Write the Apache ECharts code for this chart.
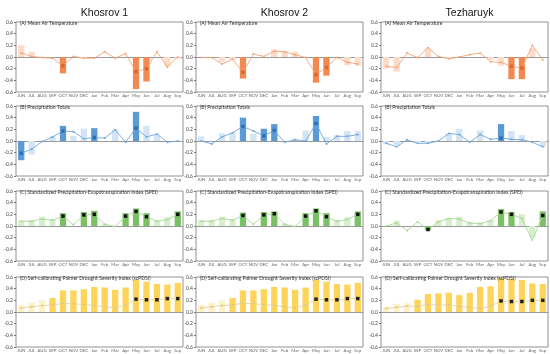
<!DOCTYPE html>
<html><head><meta charset="utf-8">
<script src="https://cdn.jsdelivr.net/npm/echarts@6/dist/echarts.min.js"></script>
<style>html,body{margin:0;padding:0;background:#fff}#c{width:550px;height:354px}</style>
</head><body><div id="c"></div><script>
const months = ['JUN','JUL','AUG','SEP','OCT','NOV','DEC','Jan','Feb','Mar','Apr','May','Jun','Jul','Aug','Sep'];
const sites = ['Khosrov 1','Khosrov 2','Tezharuyk'];
const panelTitles = ['(A) Mean Air Temperature','(B) Precipitation Totals','(C) Standardized Precipitation-Evapotranspiration Index (SPEI)','(D) Self-calibrating Palmer Drought Severity Index (scPDSI)'];
const yTicks = [-0.6,-0.4,-0.2,0.0,0.2,0.4,0.6];

// Khosrov 1
const k1TempBar  = [0.2,0.09,0,0,-0.28,0,-0.03,0,0,0,0,-0.55,-0.42,0,-0.16,-0.03];
const k1TempLine = [0.07,0.01,-0.01,-0.02,-0.15,0.01,-0.02,-0.02,0.09,-0.02,0.06,-0.25,-0.2,0.09,-0.17,0.0];
const k1TempSig  = [0,0,0,0,1,0,0,0,0,0,0,1,1,0,0,0];
const k1PrecBar  = [-0.33,-0.23,0,0.08,0.26,0.09,0.21,0.22,0,0.2,0,0.5,0.26,0.1,0,0];
const k1PrecLine = [-0.21,-0.14,-0.01,0.07,0.17,0.16,0.04,0.06,0.05,0.19,-0.02,0.22,0.07,0.12,-0.02,0.0];
const k1PrecSig  = [1,0,0,0,1,0,0,1,0,0,0,1,0,0,0,0];
const k1SpeiBar  = [0.1,0.1,0.16,0.12,0.22,0,0.24,0.26,0.04,0,0.22,0.3,0.22,0.1,0.15,0.25];
const k1SpeiLine = [0.08,0.08,0.12,0.1,0.17,0.02,0.19,0.2,0.03,-0.01,0.17,0.25,0.16,0.08,0.11,0.2];
const k1SpeiSig  = [0,0,0,0,1,0,1,1,0,0,1,1,1,0,0,1];
const k1PdsiBar  = [0.12,0.16,0.2,0.24,0.37,0.37,0.39,0.43,0.42,0.38,0.42,0.55,0.52,0.48,0.47,0.5];
const k1PdsiLine = [0.07,0.09,0.11,0.12,0.15,0.14,0.13,0.11,0.09,0.07,0.12,0.22,0.21,0.21,0.23,0.23];

// Khosrov 2
const k2TempBar  = [0,0,-0.08,-0.05,-0.37,0,0,0.13,0.1,0.09,0,-0.44,-0.32,0,-0.14,-0.15];
const k2TempLine = [-0.01,-0.01,-0.12,-0.04,-0.26,0.05,0.01,0.1,0.09,0.04,-0.01,-0.3,-0.18,-0.01,-0.09,-0.12];
const k2TempSig  = [0,0,0,0,1,0,0,0,0,0,0,1,1,0,0,0];
const k2PrecBar  = [0.08,0,0.13,0.14,0.4,0.12,0.21,0.29,0,0.04,0.18,0.43,0.07,0.1,0.17,0.17];
const k2PrecLine = [0.0,-0.05,0.07,0.14,0.25,0.17,0.09,0.18,-0.02,0.02,0.0,0.3,-0.05,0.08,0.08,0.11];
const k2PrecSig  = [0,0,0,0,1,0,1,1,0,0,0,1,0,0,0,0];
const k2SpeiBar  = [0.1,0.1,0.16,0.12,0.23,0,0.24,0.25,0.04,0,0.22,0.3,0.22,0.1,0.15,0.25];
const k2SpeiLine = [0.08,0.08,0.13,0.1,0.18,0.03,0.19,0.21,0.03,-0.01,0.17,0.26,0.16,0.08,0.11,0.2];
const k2SpeiSig  = [0,0,0,0,1,0,1,1,0,0,1,1,1,0,0,1];
const k2PdsiBar  = [0.12,0.16,0.2,0.24,0.37,0.37,0.39,0.43,0.42,0.38,0.42,0.55,0.52,0.48,0.47,0.5];
const k2PdsiLine = [0.07,0.09,0.11,0.12,0.15,0.14,0.13,0.11,0.09,0.07,0.12,0.22,0.21,0.21,0.23,0.23];

// Tezharuyk
const tzTempBar  = [-0.2,-0.25,0,0,0.14,0,-0.03,0,0,0,-0.05,-0.15,-0.38,-0.38,0.15,0];
const tzTempLine = [-0.16,-0.18,0.07,-0.01,0.16,0.01,-0.03,0.0,0.04,0.07,-0.08,-0.09,-0.16,-0.19,0.2,-0.05];
const tzTempSig  = [0,0,0,0,0,0,0,0,0,0,0,0,1,1,0,0];
const tzPrecBar  = [-0.05,-0.07,0,-0.02,-0.04,0,0.13,0.21,0,0.18,0,0.29,0.17,0.1,0,-0.1];
const tzPrecLine = [-0.04,-0.1,0.02,-0.04,-0.04,0.0,0.13,0.11,-0.02,0.11,0.03,0.05,0.03,0.02,-0.02,-0.1];
const tzPrecSig  = [0,0,0,0,0,0,0,0,0,0,0,1,0,0,0,0];
const tzSpeiBar  = [0,0.09,0,0,-0.07,0.1,0.14,0.16,0.07,0.06,0.1,0.29,0.24,0.2,-0.2,0.25];
const tzSpeiLine = [0.0,0.05,-0.08,0.07,-0.06,0.07,0.13,0.12,0.05,0.04,0.09,0.24,0.2,0.13,-0.24,0.18];
const tzSpeiSig  = [0,0,0,0,1,0,0,0,0,0,0,1,1,0,0,1];
const tzPdsiBar  = [0.09,0.14,0.15,0.21,0.31,0.32,0.33,0.29,0.33,0.43,0.44,0.58,0.57,0.55,0.49,0.48];
const tzPdsiLine = [0.06,0.08,0.1,0.1,0.13,0.12,0.12,0.1,0.08,0.06,0.1,0.19,0.18,0.18,0.2,0.2];

// scPDSI significance (shared by the three sites)
const pdsiBarSig   = [0,0,0,1,1,1,1,1,1,1,1,1,1,1,1,1];
const pdsiPointSig = [0,0,0,0,0,0,0,0,0,0,0,1,1,1,1,1];

const panels = [
  [[k1TempBar,k1TempLine,k1TempSig,k1TempSig],[k1PrecBar,k1PrecLine,k1PrecSig,k1PrecSig],[k1SpeiBar,k1SpeiLine,k1SpeiSig,k1SpeiSig],[k1PdsiBar,k1PdsiLine,pdsiBarSig,pdsiPointSig]],
  [[k2TempBar,k2TempLine,k2TempSig,k2TempSig],[k2PrecBar,k2PrecLine,k2PrecSig,k2PrecSig],[k2SpeiBar,k2SpeiLine,k2SpeiSig,k2SpeiSig],[k2PdsiBar,k2PdsiLine,pdsiBarSig,pdsiPointSig]],
  [[tzTempBar,tzTempLine,tzTempSig,tzTempSig],[tzPrecBar,tzPrecLine,tzPrecSig,tzPrecSig],[tzSpeiBar,tzSpeiLine,tzSpeiSig,tzSpeiSig],[tzPdsiBar,tzPdsiLine,pdsiBarSig,pdsiPointSig]]
];

const rowStyle = [
  {dark:'#F08A50', light:'#FCDCC8', line:'#F4A478', pt:'#F4A478', sigPt:'#E0652C'},
  {dark:'#5B9BD5', light:'#D3E4F5', line:'#6FA6DA', pt:'#6FA6DA', sigPt:'#2F6FB5'},
  {dark:'#79C164', light:'#D8EFCD', line:'#A9D99A', pt:'#A9D99A', sigPt:'#111111'},
  {dark:'#FFD45A', light:'#FFF1C6', line:'#E4D49C', pt:'#D8C684', sigPt:'#222222'}
];

const colLeft = [16,196,381];
const colW = 167;
const rowTop = [22,106,191,277];
const rowH = 70;
const font = 'Lato, "Liberation Sans", sans-serif';

const grid=[], xAxis=[], yAxis=[], series=[], title=[];
let gi = 0;
for (let c=0;c<3;c++){
  title.push({text:sites[c], left:colLeft[c]+colW/2, top:3, textAlign:'center',
    textStyle:{fontFamily:'"Liberation Sans", Arial, sans-serif', fontSize:10.5, fontWeight:'normal', color:'#111'}});
  for (let r=0;r<4;r++){
    const [bars,line,bsig,psig] = panels[c][r];
    const st = rowStyle[r];
    grid.push({left:colLeft[c], top:rowTop[r], width:colW, height:rowH, show:true,
      borderColor:'#777', borderWidth:0.8, backgroundColor:'transparent'});
    title.push({text:panelTitles[r], left:colLeft[c]-1, top:rowTop[r]-6.5,
      textStyle:{fontFamily:font, fontSize:5.1, fontWeight:'normal', color:'#333'}});
    xAxis.push({type:'category', gridIndex:gi, data:months,
      axisLine:{onZero:true, lineStyle:{color:'#999', width:1}},
      axisTick:{show:false},
      axisLabel:{fontSize:4.3, color:'#666', margin:2, interval:0, fontFamily:font}});
    yAxis.push({type:'value', gridIndex:gi, min:-0.6, max:0.6, interval:0.2,
      splitLine:{show:false}, axisLine:{show:false},
      axisTick:{show:true, length:2, lineStyle:{color:'#777'}},
      axisLabel:{fontSize:5, color:'#444', margin:3, fontFamily:font,
        formatter:v=>v.toFixed(1)}});
    series.push({type:'bar', xAxisIndex:gi, yAxisIndex:gi, barWidth:6.3, silent:true,
      data:bars.map((v,i)=>({value:v, itemStyle:{color: bsig[i]?st.dark:st.light}})), z:2});
    series.push({type:'line', xAxisIndex:gi, yAxisIndex:gi, silent:true, z:5,
      lineStyle:{color:st.line, width:0.9},
      data:line.map((v,i)=>({value:v,
        symbol: psig[i]?'rect':'circle',
        symbolSize: psig[i]?3.5:2,
        itemStyle:{color: psig[i]?st.sigPt:st.pt}}))});
    gi++;
  }
}

const chart = echarts.init(document.getElementById('c'), null, {renderer:'canvas'});
chart.setOption({animation:false, title, grid, xAxis, yAxis, series});
</script></body></html>
